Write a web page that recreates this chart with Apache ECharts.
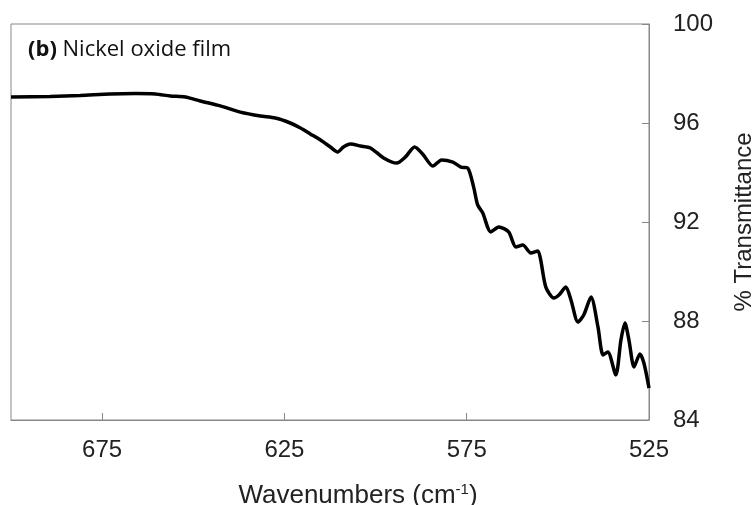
<!DOCTYPE html>
<html>
<head>
<meta charset="utf-8">
<script src="https://cdn.jsdelivr.net/npm/echarts@6/dist/echarts.min.js"></script>
<style>
  html, body { margin: 0; padding: 0; background: #fff; }
  #chart { width: 756px; height: 505px; }
</style>
</head>
<body>
<div id="chart"></div>
<script>
// wavenumber (cm-1), left to right
const wavenumbers = [
  700, 689.3, 681.0, 672.8, 665.9, 660.4, 656.3, 652.2, 648.1, 642.6,
  637.1, 631.6, 627.5, 623.4, 620.6, 617.9, 615.1, 612.4, 610.4, 608.8,
  606.9, 604.1, 601.4, 597.8, 594.2, 591.8, 589.3, 587.1, 584.3, 581.9,
  578.8, 576.6, 574.7, 573.1, 572.0, 570.6, 568.4, 566.2, 563.5, 561.5,
  559.6, 557.4, 555.5, 554.7, 553.3, 551.1, 549.7, 547.8, 546.4, 544.5,
  542.9, 540.9, 539.0, 537.6, 536.3, 534.1, 532.7, 531.6, 530.5, 529.1,
  527.5, 526.4, 525
];
// % transmittance
const transmittance = [
  97.05, 97.07, 97.11, 97.17, 97.19, 97.17, 97.09, 97.05, 96.89, 96.69,
  96.44, 96.28, 96.20, 96.00, 95.80, 95.56, 95.31, 95.03, 94.83, 95.03,
  95.15, 95.07, 94.99, 94.59, 94.38, 94.63, 95.03, 94.75, 94.26, 94.51,
  94.42, 94.22, 94.18, 93.41, 92.69, 92.36, 91.60, 91.80, 91.60, 90.99,
  91.07, 90.75, 90.83, 90.46, 89.37, 88.93, 89.05, 89.37, 88.85, 87.96,
  88.24, 88.97, 87.76, 86.63, 86.75, 85.82, 87.23, 87.92, 87.23, 86.14,
  86.67, 86.30, 85.29
];
const xTicks = [525, 575, 625, 675];

const chart = echarts.init(document.getElementById('chart'));
const font = 'Liberation Sans, Arial, sans-serif';

let option = {
  animation: false,
  title: {
    left: 23,
    top: 34,
    text: '{b|(b)} Nickel oxide film',
    textStyle: {
      fontFamily: 'Open Sans',
      fontSize: 22,
      fontWeight: 'normal',
      color: '#111',
      rich: {
        b: { fontFamily: 'Open Sans', fontSize: 22, fontWeight: 'bold', color: '#111' }
      }
    }
  },
  grid: {
    left: 11,
    right: 107,
    top: 24,
    bottom: 85,
    show: true,
    borderColor: '#888',
    borderWidth: 1,
    containLabel: false,
    outerBoundsMode: 'none'
  },
  xAxis: {
    type: 'value',
    inverse: true,
    min: 525,
    max: 700,
    interval: 50,
    name: 'Wavenumbers (cm{sup|-1})',
    nameLocation: 'middle',
    nameGap: 62,
    nameTextStyle: {
      fontFamily: font,
      fontSize: 26,
      color: '#222',
      padding: [0, 0, 0, 56],
      rich: {
        sup: { fontFamily: font, fontSize: 15, color: '#222', verticalAlign: 'top', padding: [0, 0, 12, 0] }
      }
    },
    axisLine: { show: true, lineStyle: { color: '#888', width: 1 } },
    axisTick: { show: true, inside: true, length: 7, lineStyle: { color: '#888' } },
    axisLabel: {
      fontFamily: font,
      fontSize: 24,
      color: '#222',
      margin: 18,
      showMaxLabel: false,
      formatter: v => xTicks.includes(v) ? String(v) : ''
    },
    splitLine: { show: false }
  },
  yAxis: {
    type: 'value',
    position: 'right',
    min: 84,
    max: 100,
    interval: 4,
    name: '% Transmittance',
    nameLocation: 'middle',
    nameRotate: 90,
    nameGap: 83,
    nameTextStyle: { fontFamily: font, fontSize: 24, color: '#222' },
    axisLine: { show: true, lineStyle: { color: '#888', width: 1 } },
    axisTick: { show: true, inside: true, length: 7, lineStyle: { color: '#888' } },
    axisLabel: { fontFamily: font, fontSize: 24, color: '#222', margin: 24 },
    splitLine: { show: false }
  },
  series: [{
    type: 'line',
    data: wavenumbers.map((w, i) => [w, transmittance[i]]),
    showSymbol: false,
    smooth: 0.25,
    lineStyle: { color: '#000', width: 3.5 }
  }]
};
chart.setOption(option);
</script>
</body>
</html>
